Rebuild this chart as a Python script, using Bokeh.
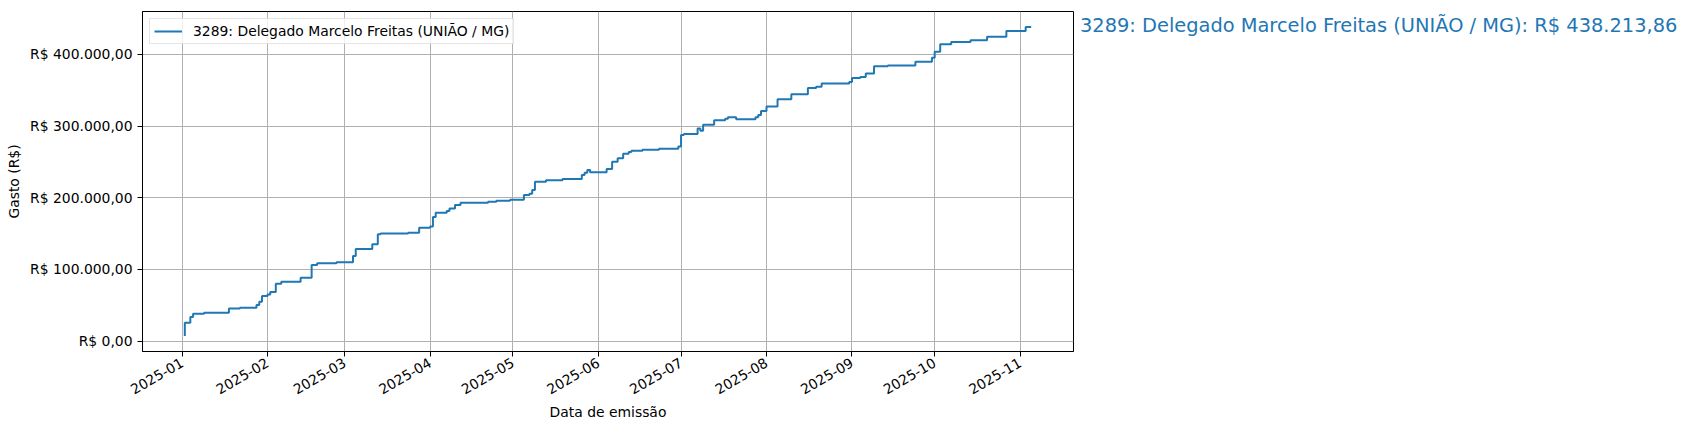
import math
import pandas as pd
from bokeh.plotting import figure
from bokeh.models import (ColumnDataSource, Range1d, FixedTicker, DatetimeTickFormatter,
                          Legend, LegendItem)
from bokeh.embed import file_html
from bokeh.resources import INLINE

deputado = "3289: Delegado Marcelo Freitas (UNIÃO / MG)"

datas = [
    "2025-01-02", "2025-01-04", "2025-01-05", "2025-01-09", "2025-01-18", "2025-01-22",
    "2025-01-28", "2025-01-29", "2025-01-30", "2025-02-01", "2025-02-02", "2025-02-04",
    "2025-02-06", "2025-02-13", "2025-02-17", "2025-02-19", "2025-02-26", "2025-03-04",
    "2025-03-05", "2025-03-11", "2025-03-13", "2025-03-14", "2025-03-24", "2025-03-28",
    "2025-04-01", "2025-04-02", "2025-04-03", "2025-04-07", "2025-04-08", "2025-04-10",
    "2025-04-12", "2025-04-22", "2025-04-25", "2025-04-30", "2025-05-05", "2025-05-07",
    "2025-05-08", "2025-05-09", "2025-05-13", "2025-05-19", "2025-05-26", "2025-05-27",
    "2025-05-28", "2025-05-29", "2025-06-04", "2025-06-06", "2025-06-08", "2025-06-10",
    "2025-06-12", "2025-06-13", "2025-06-17", "2025-06-23", "2025-06-30", "2025-07-01",
    "2025-07-02", "2025-07-07", "2025-07-08", "2025-07-09", "2025-07-13", "2025-07-17",
    "2025-07-18", "2025-07-21", "2025-07-28", "2025-07-29", "2025-07-30", "2025-08-01",
    "2025-08-05", "2025-08-10", "2025-08-16", "2025-08-19", "2025-08-21", "2025-08-31",
    "2025-09-01", "2025-09-04", "2025-09-06", "2025-09-09", "2025-09-14", "2025-09-24",
    "2025-09-30", "2025-10-01", "2025-10-03", "2025-10-07", "2025-10-14", "2025-10-20",
    "2025-10-27", "2025-11-03", "2025-11-05",
]

gasto_acumulado = [
    7000, 25500, 33500, 38000, 39500, 45600,
    46500, 50200, 54900, 62800, 65100, 68400,
    80000, 82700, 88300, 106000, 108400, 109800,
    118600, 128400, 134900, 148900, 150100, 151200,
    158000, 160000, 173000, 179000, 181400, 185100,
    189800, 193000, 194400, 195800, 197200, 203700,
    205500, 210700, 222300, 224200, 226000, 231600,
    234800, 238600, 235400, 240000, 250200, 254900,
    261300, 263700, 265500, 266900, 268300, 271600,
    287500, 289000, 296600, 293400, 301800, 307900,
    310300, 312100, 309300, 312100, 315500, 321100,
    327200, 337500, 344500, 353000, 354900, 359200,
    361400, 367000, 368500, 373200, 383500, 384500,
    389600, 395200, 403700, 414100, 417300, 419700,
    424400, 432500, 438213.86,
]

meses = ["2025-01", "2025-02", "2025-03", "2025-04", "2025-05", "2025-06",
         "2025-07", "2025-08", "2025-09", "2025-10", "2025-11"]

y_ticks = [0, 100000, 200000, 300000, 400000]
y_tick_labels = ["R$ 0,00", "R$ 100.000,00", "R$ 200.000,00", "R$ 300.000,00", "R$ 400.000,00"]


def brl(v):
    s = f"{v:,.2f}"
    return "R$ " + s.replace(",", "X").replace(".", ",").replace("X", ".")


def to_ms(ts):
    return pd.Timestamp(ts).value / 1e6


dt = pd.to_datetime(datas)
src = ColumnDataSource(data=dict(data=dt, gasto=gasto_acumulado))

x0, x1 = to_ms(dt.min()), to_ms(dt.max())
xs = x1 - x0
y0, y1 = min(gasto_acumulado), max(gasto_acumulado)
ys = y1 - y0

FONT = "DejaVu Sans"
FS = "13.9px"

p = figure(x_axis_type="datetime", frame_width=931, frame_height=340,
           min_border_left=142, min_border_right=614, min_border_top=11, min_border_bottom=76,
           x_range=Range1d(x0 - 0.05 * xs, x1 + 0.05 * xs),
           y_range=Range1d(y0 - 0.05 * ys, y1 + 0.05 * ys),
           output_backend="svg", toolbar_location=None,
           background_fill_color="white", border_fill_color="white")

r = p.step(x="data", y="gasto", source=src, mode="before",
           line_color="#1f77b4", line_width=2)

xt = FixedTicker(ticks=[to_ms(m + "-01") for m in meses], minor_ticks=[])
yt = FixedTicker(ticks=y_ticks, minor_ticks=[])
p.xaxis.ticker = xt
p.xgrid.ticker = xt
p.yaxis.ticker = yt
p.ygrid.ticker = yt

fmt = "%Y-%m"
p.xaxis.formatter = DatetimeTickFormatter(
    microseconds=fmt, milliseconds=fmt, seconds=fmt, minsec=fmt, minutes=fmt,
    hourmin=fmt, hours=fmt, days=fmt, months=fmt, years=fmt)
p.xaxis.major_label_orientation = math.pi / 6
p.yaxis.major_label_overrides = {t: l for t, l in zip(y_ticks, y_tick_labels)}

for ax in (p.xaxis, p.yaxis):
    ax.major_label_text_font = FONT
    ax.major_label_text_font_size = FS
    ax.major_label_text_color = "black"
    ax.axis_label_text_font = FONT
    ax.axis_label_text_font_size = FS
    ax.axis_label_text_font_style = "normal"
    ax.axis_label_text_color = "black"
    ax.major_tick_out = 5
    ax.major_tick_in = 0
    ax.major_tick_line_color = "black"
    ax.major_tick_line_width = 1
    ax.minor_tick_line_color = None
    ax.major_label_standoff = 5
    ax.axis_line_color = "black"
    ax.axis_label_standoff = 5

p.xaxis.axis_label_standoff = 2
p.xaxis.axis_label = "Data de emissão"
p.yaxis.axis_label = "Gasto (R$)"

p.grid.grid_line_color = "#b0b0b0"
p.grid.grid_line_width = 1
p.outline_line_color = "black"
p.outline_line_width = 1
p.outline_line_alpha = 1

legend = Legend(items=[LegendItem(label=deputado, renderers=[r])],
                location="top_left", margin=7, padding=4, spacing=0,
                glyph_width=28, glyph_height=16, label_height=16, label_standoff=11,
                label_text_font=FONT, label_text_font_size=FS, label_text_color="black",
                border_line_color="#cccccc", border_line_width=1,
                background_fill_color="white", background_fill_alpha=0.8)
p.add_layout(legend)

# total annotation to the right of the axes
total = Legend(items=[LegendItem(label=f"{deputado}: {brl(gasto_acumulado[-1])}", renderers=[r])],
               location=(7, 314), margin=0, padding=0, spacing=0,
               glyph_width=0, glyph_height=23, label_height=23, label_standoff=0,
               label_text_font=FONT, label_text_font_size="19.4px", label_text_color="#1f77b4",
               label_text_baseline="middle",
               border_line_color=None, background_fill_alpha=0)
p.add_layout(total, "right")

open("out.html", "w").write(file_html(p, INLINE))
